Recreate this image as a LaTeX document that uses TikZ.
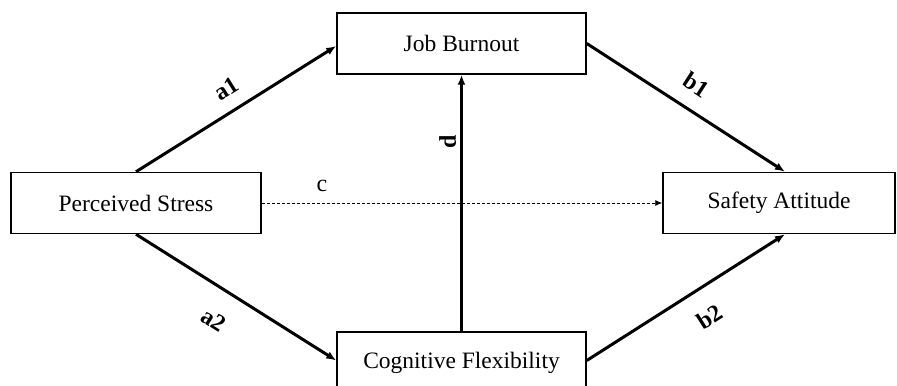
\documentclass[tikz,border=0pt]{standalone}
\usepackage{fontspec}
\setmainfont{Liberation Serif}
\usetikzlibrary{arrows.meta}
\begin{document}
\begin{tikzpicture}[x=0.5pt,y=-0.5pt,
  box/.style={draw=black,line width=0.75pt,rectangle,inner sep=0pt,
    minimum height=30.5pt,font=\fontsize{11.75}{14}\selectfont},
  path/.style={line width=1.5pt,-{Latex[length=5pt,width=4pt]}},
  direct/.style={line width=0.4pt,dash pattern=on 1.5pt off 1pt,-{Latex[length=3.5pt,width=3pt]}},
  lab/.style={inner sep=0pt,font=\fontsize{12}{14}\selectfont\bfseries,sloped},
  lablight/.style={inner sep=0pt,font=\fontsize{12}{14}\selectfont}]
\useasboundingbox (0,0) rectangle (897,385);
\fill[white] (0,0) rectangle (897,385);
\node[box,minimum width=125pt] (PS) at (136,203) {Perceived Stress};
\node[box,minimum width=124.5pt] (JB) at (461.5,43.5) {Job Burnout};
\node[box,minimum width=124.5pt] (CF) at (461.5,362.5) {Cognitive Flexibility};
\node[box,minimum width=116pt] (SA) at (779,203) {Safety Attitude};
\draw[path] (PS.north) -- node[lab,pos=0.51,above=6.5pt]{a1} ([yshift=-1.25pt]JB.west);
\draw[path] (JB.east) -- node[lab,pos=0.485,above=7.4pt]{b1} ([xshift=3pt]SA.north);
\draw[path] (PS.south) -- node[lab,pos=0.47,below=10.7pt]{a2} ([yshift=1pt]CF.west);
\draw[path] ([yshift=1pt]CF.east) -- node[lab,pos=0.54,below=9.6pt]{b2} ([xshift=3pt]SA.south);
\draw[path] (CF.north) -- node[lab,pos=0.74,above=2pt]{d} (JB.south);
\draw[direct] (PS.east) -- node[lablight,pos=0.15,above=5.3pt]{c} (SA.west);
\end{tikzpicture}
\end{document}
